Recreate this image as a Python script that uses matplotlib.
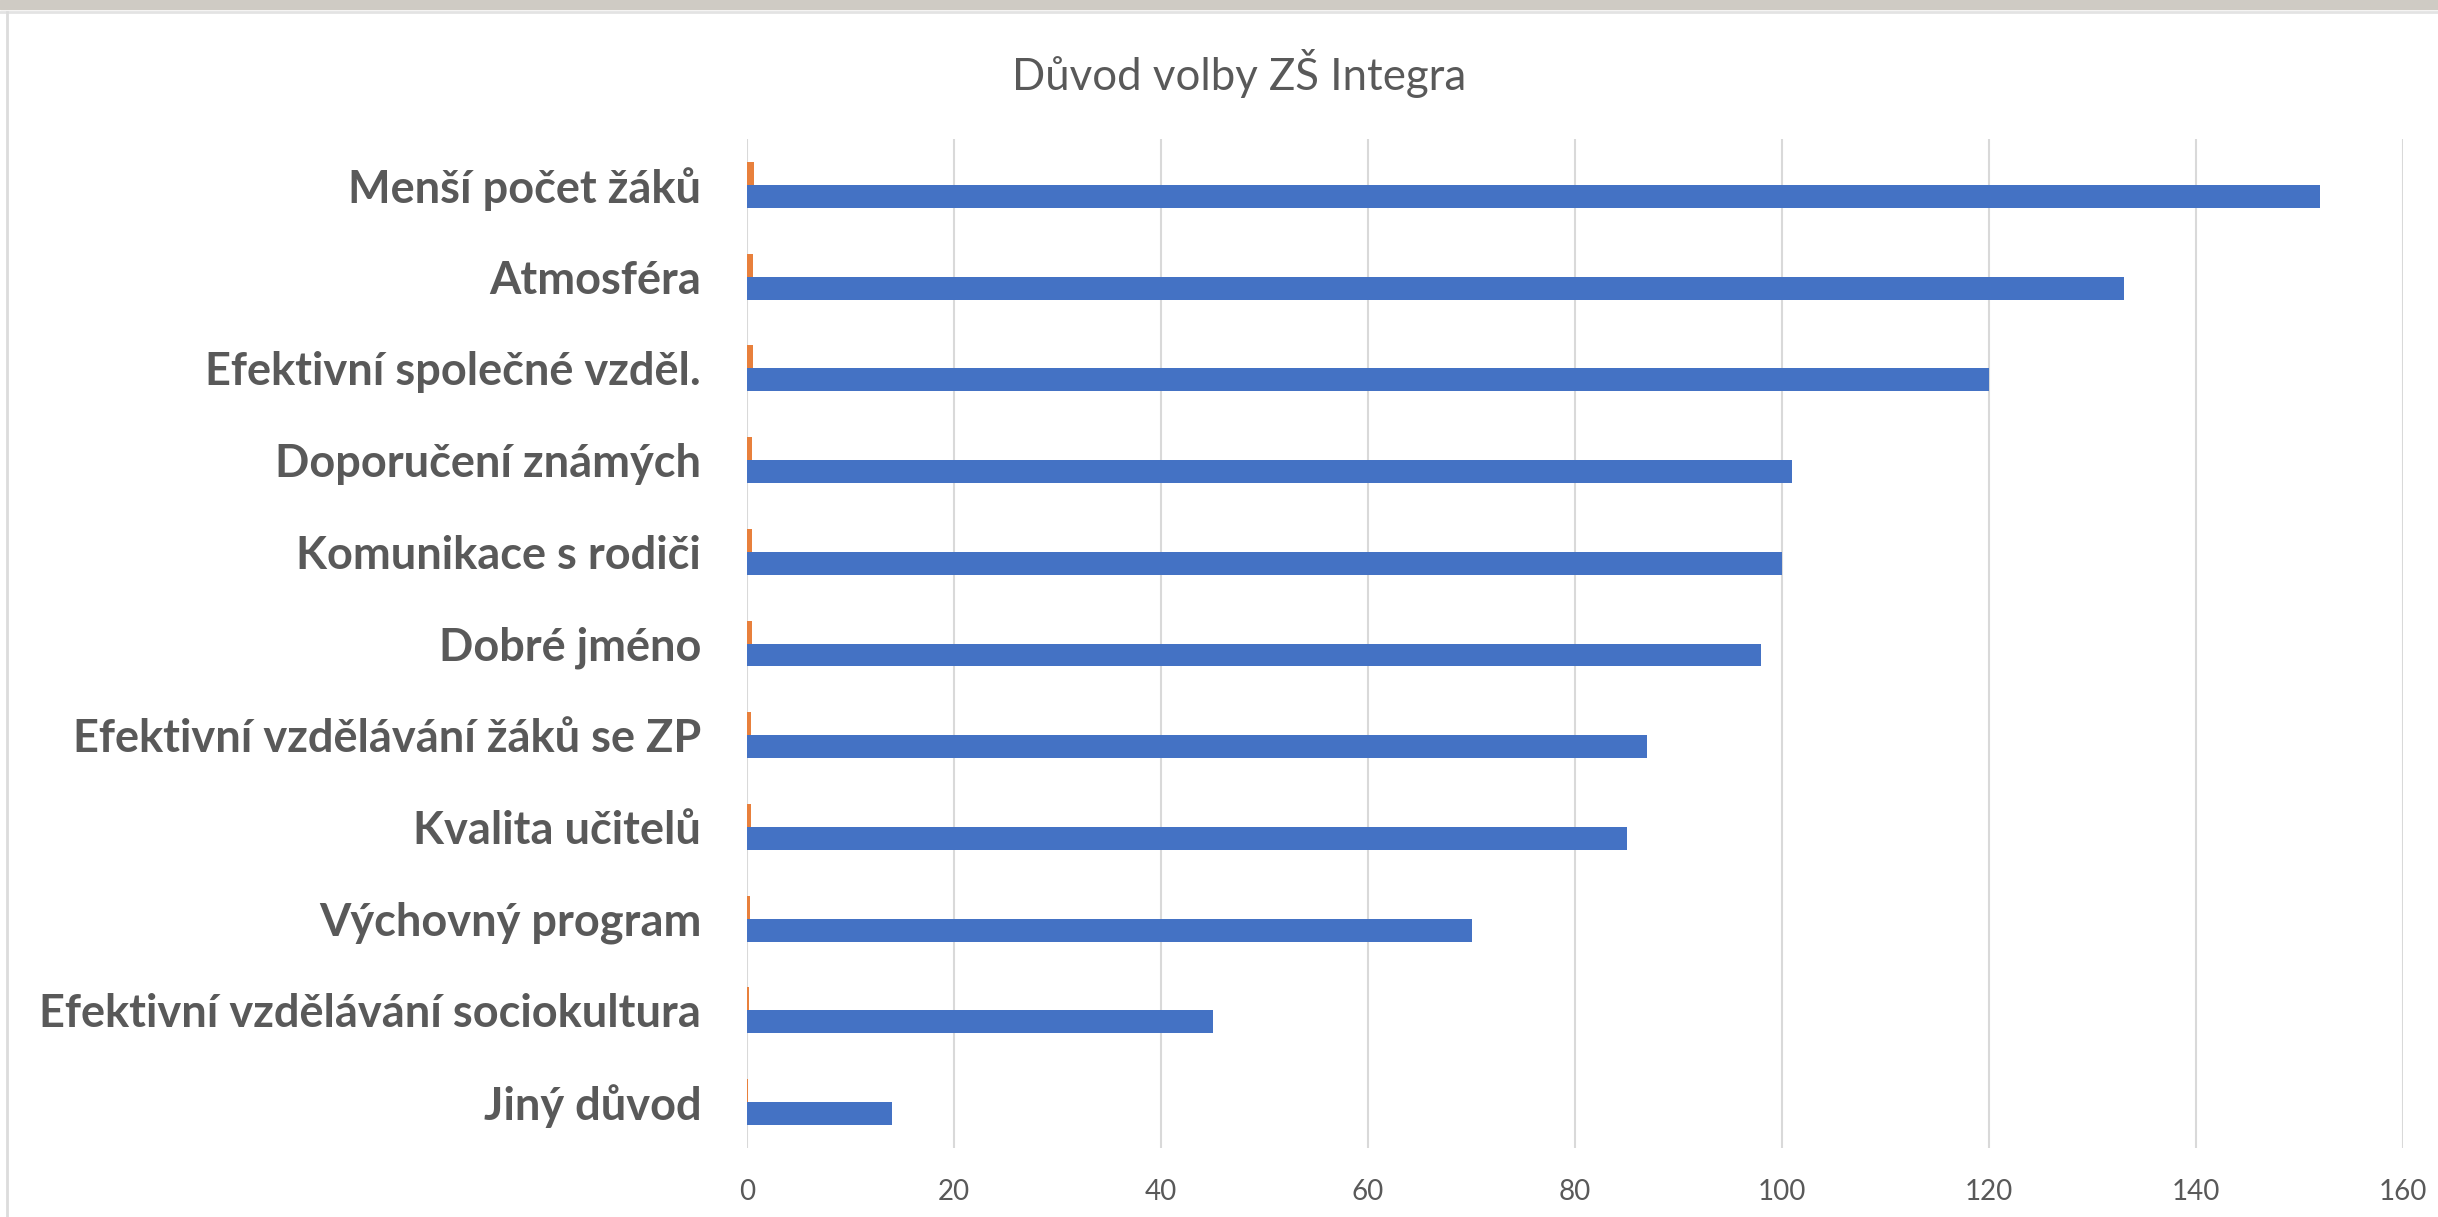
import matplotlib
matplotlib.use("Agg")
import matplotlib.pyplot as plt
import numpy as np
from matplotlib.patches import Rectangle
from matplotlib.lines import Line2D

# data
categories = ["Menší počet žáků", "Atmosféra", "Efektivní společné vzděl.",
              "Doporučení známých", "Komunikace s rodiči", "Dobré jméno",
              "Efektivní vzdělávání žáků se ZP", "Kvalita učitelů",
              "Výchovný program", "Efektivní vzdělávání sociokultura", "Jiný důvod"]
counts = [152, 133, 120, 101, 100, 98, 87, 85, 70, 45, 14]
shares = [0.69, 0.62, 0.55, 0.48, 0.45, 0.45, 0.40, 0.39, 0.32, 0.20, 0.06]
xticks = [0, 20, 40, 60, 80, 100, 120, 140, 160]
title = "Důvod volby ZŠ Integra"

plt.rcParams['font.family'] = ['Lato', 'DejaVu Sans']

W, H = 2438, 1217
fig = plt.figure(figsize=(W / 100, H / 100), dpi=100)
fig.patch.set_facecolor("white")

# slide frame bits
fig.add_artist(Rectangle((0, 1 - 9 / H), 1, 9 / H, transform=fig.transFigure,
                         color="#cfcbc4", zorder=0))
fig.add_artist(Line2D([0, 1], [1 - 12 / H] * 2, transform=fig.transFigure,
                      color="#e3e3e3", lw=2))
fig.add_artist(Line2D([7 / W] * 2, [0, 1 - 12 / H], transform=fig.transFigure,
                      color="#dcdcdc", lw=2))

ax = fig.add_axes([747 / W, 1 - 1148 / H, (2403 - 747) / W, (1148 - 139) / H])

y = np.arange(len(categories))
ax.barh(y + 0.125, counts, height=0.25, color="#4472C4", zorder=3)
ax.barh(y - 0.125, shares, height=0.25, color="#E8803C", zorder=3)

ax.set_xlim(0, 160)
ax.set_ylim(len(categories) - 0.5, -0.5)
ax.set_xticks(xticks)
ax.set_yticks(y)
ax.set_yticklabels(categories, fontsize=32.5, fontweight="bold", color="#595959")
ax.tick_params(axis="x", length=0, pad=22, labelsize=20, labelcolor="#595959")
ax.tick_params(axis="y", length=0, pad=33)
ax.grid(axis="x", color="#d9d9d9", lw=1.5, zorder=0)
for s in ax.spines.values():
    s.set_visible(False)

fig.text(1239 / W, 1 - 73 / H, title, ha="center", va="center",
         fontsize=31.5, color="#595959")

fig.savefig("out.png", dpi=100)
